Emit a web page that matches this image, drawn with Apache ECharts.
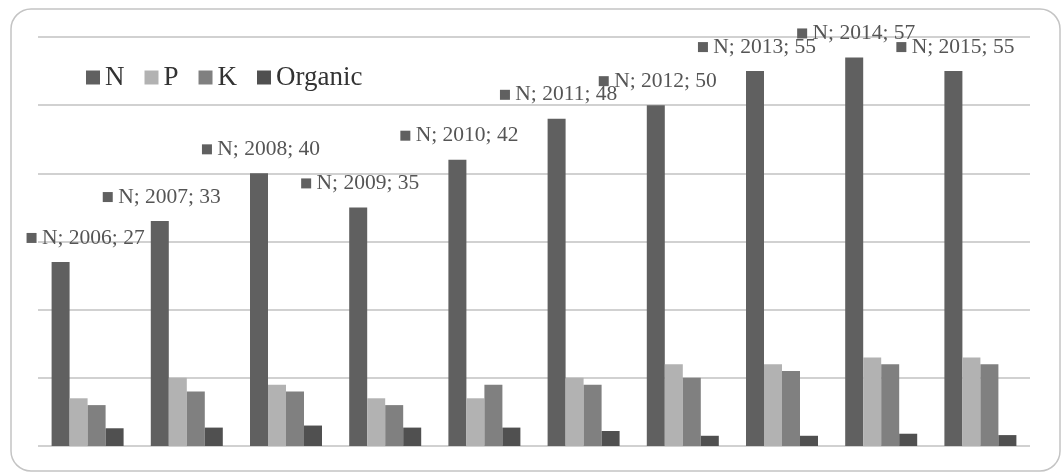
<!DOCTYPE html>
<html>
<head>
<meta charset="utf-8">
<script src="https://cdn.jsdelivr.net/npm/echarts@6/dist/echarts.min.js"></script>
<style>
  html, body { margin: 0; padding: 0; background: #fff; }
  #chart { width: 1063px; height: 473px; }
</style>
</head>
<body>
<div id="chart"></div>
<script>
// data
var years = ['2006', '2007', '2008', '2009', '2010', '2011', '2012', '2013', '2014', '2015'];
var nVals = [27, 33, 40, 35, 42, 48, 50, 55, 57, 55];
var pVals = [7, 10, 9, 7, 7, 10, 12, 12, 13, 13];
var kVals = [6, 8, 8, 6, 9, 9, 10, 11, 12, 12];
var organicVals = [2.6, 2.7, 3, 2.7, 2.7, 2.2, 1.5, 1.5, 1.8, 1.6];

var colors = ['#606060', '#b2b2b2', '#808080', '#505050'];
var serif = 'Liberation Serif';

var chart = echarts.init(document.getElementById('chart'));

// N labels, first one pushed right like the original
var nData = nVals.map(function (v, i) {
  return {
    value: v,
    label: { offset: [i === 0 ? 25 : 2, -1] }
  };
});

var option = {
  animation: false,
  color: colors,
  textStyle: { fontFamily: serif },
  graphic: [{
    type: 'rect',
    shape: { x: 11, y: 9, width: 1049, height: 462, r: 20 },
    style: { fill: 'none', stroke: '#c4c4c4', lineWidth: 1.5 },
    silent: true
  }],
  legend: {
    left: 81,
    top: 59,
    icon: 'rect',
    itemWidth: 14,
    itemHeight: 14,
    itemGap: 20,
    formatter: '{s|{name}}',
    textStyle: {
      fontFamily: serif, fontSize: 27, color: '#333',
      rich: { s: { fontFamily: serif, fontSize: 27, color: '#333' } }
    },
    data: ['N', 'P', 'K', 'Organic']
  },
  grid: { left: 38, right: 33, top: 37, bottom: 27 },
  xAxis: {
    type: 'category',
    data: years,
    axisLine: { show: false },
    axisTick: { show: false },
    axisLabel: { show: false }
  },
  yAxis: {
    type: 'value',
    min: 0,
    max: 60,
    interval: 10,
    axisLabel: { show: false },
    axisLine: { show: false },
    axisTick: { show: false },
    splitLine: { lineStyle: { color: '#c2c2c2', width: 1.5 } }
  },
  series: [
    {
      name: 'N',
      type: 'bar',
      barWidth: 18,
      barGap: '0%',
      data: nData,
      label: {
        show: true,
        position: 'top',
        distance: 13,
        formatter: function (p) {
          return '{m|}{t| N; ' + p.name + '; ' + p.value + '}';
        },
        rich: {
          m: { width: 10, height: 10, backgroundColor: '#606060' },
          t: { fontFamily: serif, fontSize: 21.5, color: '#555', lineHeight: 20 }
        }
      }
    },
    { name: 'P', type: 'bar', barWidth: 18, barGap: '0%', data: pVals },
    { name: 'K', type: 'bar', barWidth: 18, barGap: '0%', data: kVals },
    { name: 'Organic', type: 'bar', barWidth: 18, barGap: '0%', data: organicVals }
  ]
};

chart.setOption(option);
</script>
</body>
</html>
